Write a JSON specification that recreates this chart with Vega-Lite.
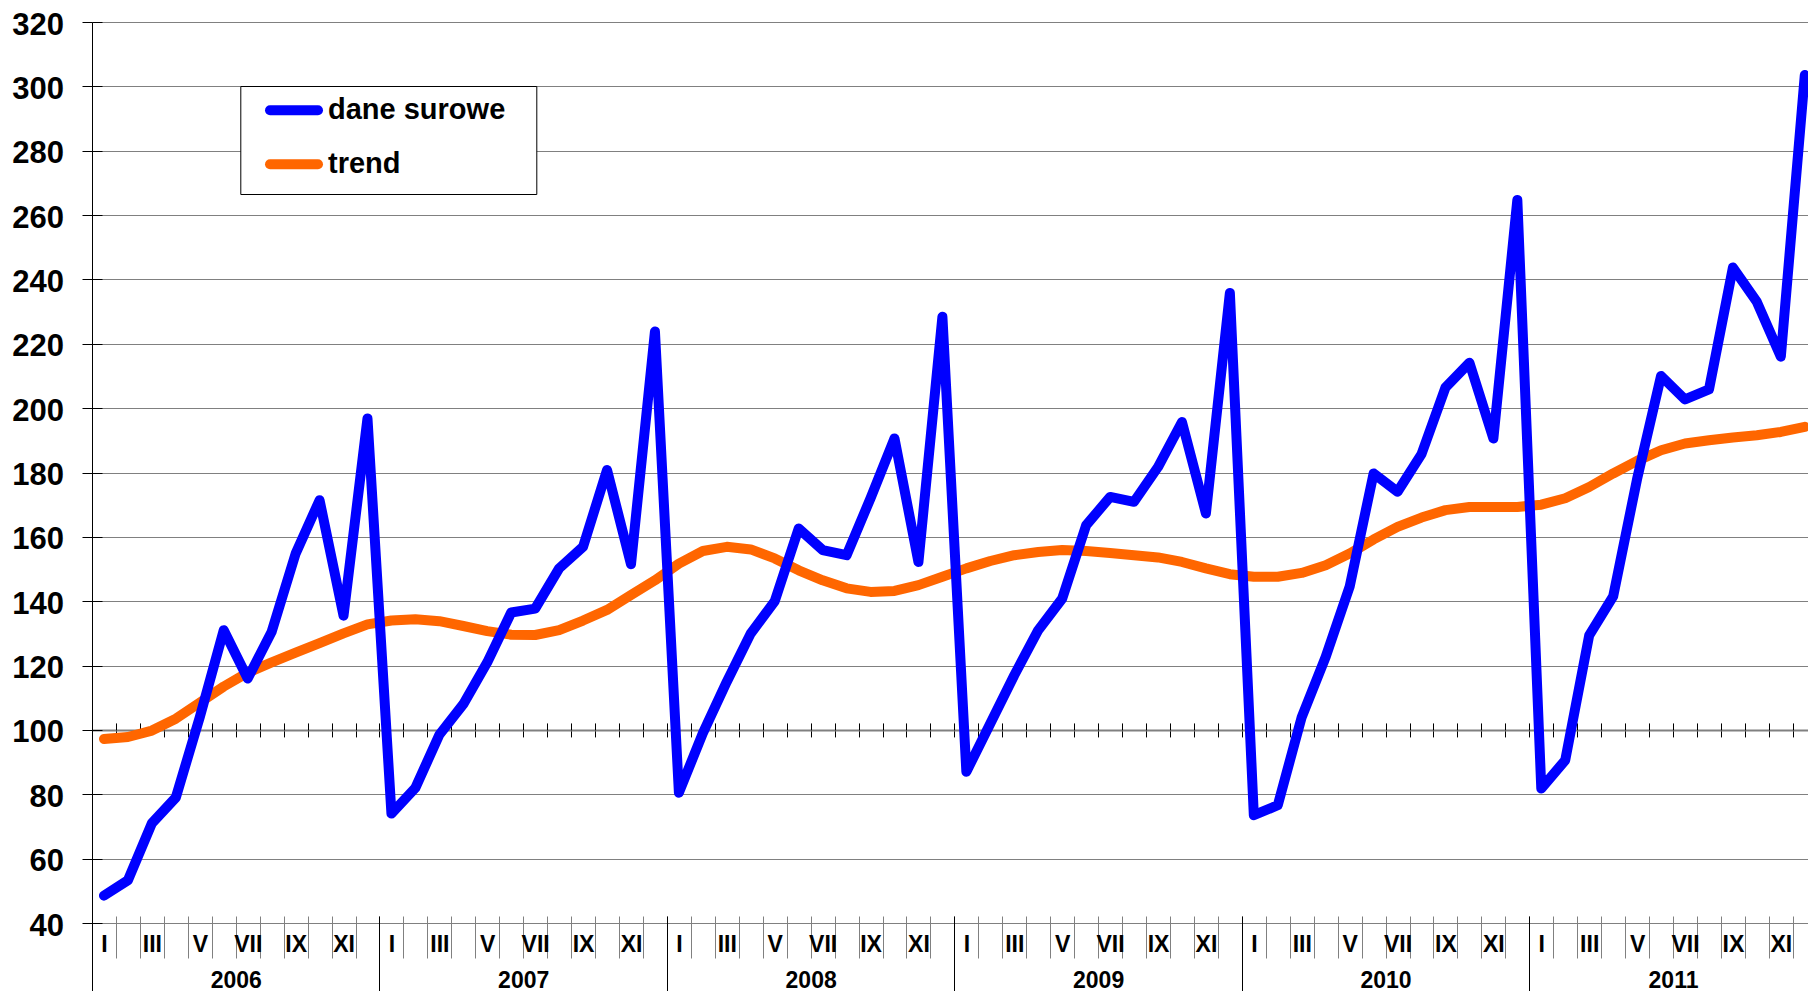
{
  "$schema": "https://vega.github.io/schema/vega-lite/v6.json",
  "width": 1716,
  "height": 901,
  "autosize": {"type": "none"},
  "padding": {"left": 92, "top": 22, "right": 0, "bottom": 68},
  "background": "#ffffff",
  "config": {
    "view": {"stroke": null},
    "font": "Liberation Sans",
    "axis": {"labelFlush": false, "labelOverlap": false, "labelBound": false, "title": null, "labelFont": "Liberation Sans"}
  },
  "data": {"values": [
    {"i":0,"series":"dane surowe","value":48.5},{"i":1,"series":"dane surowe","value":53.3},{"i":2,"series":"dane surowe","value":71},{"i":3,"series":"dane surowe","value":79},{"i":4,"series":"dane surowe","value":104},{"i":5,"series":"dane surowe","value":131},{"i":6,"series":"dane surowe","value":116},{"i":7,"series":"dane surowe","value":130.5},{"i":8,"series":"dane surowe","value":154.8},{"i":9,"series":"dane surowe","value":171.4},{"i":10,"series":"dane surowe","value":135.5},{"i":11,"series":"dane surowe","value":196.8},
    {"i":12,"series":"dane surowe","value":74},{"i":13,"series":"dane surowe","value":82},{"i":14,"series":"dane surowe","value":98.5},{"i":15,"series":"dane surowe","value":108},{"i":16,"series":"dane surowe","value":121},{"i":17,"series":"dane surowe","value":136.5},{"i":18,"series":"dane surowe","value":137.7},{"i":19,"series":"dane surowe","value":150.2},{"i":20,"series":"dane surowe","value":156.9},{"i":21,"series":"dane surowe","value":180.8},{"i":22,"series":"dane surowe","value":151.5},{"i":23,"series":"dane surowe","value":223.8},
    {"i":24,"series":"dane surowe","value":80.5},{"i":25,"series":"dane surowe","value":99},{"i":26,"series":"dane surowe","value":115},{"i":27,"series":"dane surowe","value":130},{"i":28,"series":"dane surowe","value":140},{"i":29,"series":"dane surowe","value":162.6},{"i":30,"series":"dane surowe","value":155.9},{"i":31,"series":"dane surowe","value":154.3},{"i":32,"series":"dane surowe","value":172},{"i":33,"series":"dane surowe","value":190.6},{"i":34,"series":"dane surowe","value":152.2},{"i":35,"series":"dane surowe","value":228.4},
    {"i":36,"series":"dane surowe","value":87},{"i":37,"series":"dane surowe","value":102},{"i":38,"series":"dane surowe","value":117},{"i":39,"series":"dane surowe","value":131},{"i":40,"series":"dane surowe","value":140.8},{"i":41,"series":"dane surowe","value":163.6},{"i":42,"series":"dane surowe","value":172.4},{"i":43,"series":"dane surowe","value":170.9},{"i":44,"series":"dane surowe","value":181.7},{"i":45,"series":"dane surowe","value":195.7},{"i":46,"series":"dane surowe","value":167.3},{"i":47,"series":"dane surowe","value":235.8},
    {"i":48,"series":"dane surowe","value":73.5},{"i":49,"series":"dane surowe","value":76.6},{"i":50,"series":"dane surowe","value":104},{"i":51,"series":"dane surowe","value":122.7},{"i":52,"series":"dane surowe","value":144.5},{"i":53,"series":"dane surowe","value":179.7},{"i":54,"series":"dane surowe","value":174},{"i":55,"series":"dane surowe","value":185.7},{"i":56,"series":"dane surowe","value":206.4},{"i":57,"series":"dane surowe","value":214.1},{"i":58,"series":"dane surowe","value":190.6},{"i":59,"series":"dane surowe","value":264.7},
    {"i":60,"series":"dane surowe","value":81.8},{"i":61,"series":"dane surowe","value":90.6},{"i":62,"series":"dane surowe","value":129.4},{"i":63,"series":"dane surowe","value":141.5},{"i":64,"series":"dane surowe","value":178},{"i":65,"series":"dane surowe","value":210},{"i":66,"series":"dane surowe","value":202.7},{"i":67,"series":"dane surowe","value":205.8},{"i":68,"series":"dane surowe","value":243.7},{"i":69,"series":"dane surowe","value":233},{"i":70,"series":"dane surowe","value":216},{"i":71,"series":"dane surowe","value":303.5},
    {"i":0,"series":"trend","value":97.2},{"i":1,"series":"trend","value":97.8},{"i":2,"series":"trend","value":99.8},{"i":3,"series":"trend","value":103.5},{"i":4,"series":"trend","value":108.5},{"i":5,"series":"trend","value":113.5},{"i":6,"series":"trend","value":117.8},{"i":7,"series":"trend","value":121},{"i":8,"series":"trend","value":124},{"i":9,"series":"trend","value":127},{"i":10,"series":"trend","value":130},{"i":11,"series":"trend","value":132.8},
    {"i":12,"series":"trend","value":134},{"i":13,"series":"trend","value":134.4},{"i":14,"series":"trend","value":133.8},{"i":15,"series":"trend","value":132.3},{"i":16,"series":"trend","value":130.7},{"i":17,"series":"trend","value":129.6},{"i":18,"series":"trend","value":129.5},{"i":19,"series":"trend","value":131},{"i":20,"series":"trend","value":134},{"i":21,"series":"trend","value":137.3},{"i":22,"series":"trend","value":141.9},{"i":23,"series":"trend","value":146.5},
    {"i":24,"series":"trend","value":151.7},{"i":25,"series":"trend","value":155.6},{"i":26,"series":"trend","value":156.9},{"i":27,"series":"trend","value":156.1},{"i":28,"series":"trend","value":153.3},{"i":29,"series":"trend","value":149.6},{"i":30,"series":"trend","value":146.5},{"i":31,"series":"trend","value":144},{"i":32,"series":"trend","value":142.9},{"i":33,"series":"trend","value":143.2},{"i":34,"series":"trend","value":145},{"i":35,"series":"trend","value":147.6},
    {"i":36,"series":"trend","value":150.2},{"i":37,"series":"trend","value":152.5},{"i":38,"series":"trend","value":154.3},{"i":39,"series":"trend","value":155.3},{"i":40,"series":"trend","value":155.9},{"i":41,"series":"trend","value":155.6},{"i":42,"series":"trend","value":155},{"i":43,"series":"trend","value":154.3},{"i":44,"series":"trend","value":153.6},{"i":45,"series":"trend","value":152.2},{"i":46,"series":"trend","value":150.2},{"i":47,"series":"trend","value":148.4},
    {"i":48,"series":"trend","value":147.6},{"i":49,"series":"trend","value":147.6},{"i":50,"series":"trend","value":148.8},{"i":51,"series":"trend","value":151.2},{"i":52,"series":"trend","value":154.8},{"i":53,"series":"trend","value":159.2},{"i":54,"series":"trend","value":163.1},{"i":55,"series":"trend","value":166},{"i":56,"series":"trend","value":168.3},{"i":57,"series":"trend","value":169.3},{"i":58,"series":"trend","value":169.3},{"i":59,"series":"trend","value":169.3},
    {"i":60,"series":"trend","value":170},{"i":61,"series":"trend","value":172},{"i":62,"series":"trend","value":175.5},{"i":63,"series":"trend","value":179.7},{"i":64,"series":"trend","value":183.6},{"i":65,"series":"trend","value":186.9},{"i":66,"series":"trend","value":189},{"i":67,"series":"trend","value":190},{"i":68,"series":"trend","value":190.9},{"i":69,"series":"trend","value":191.6},{"i":70,"series":"trend","value":192.6},{"i":71,"series":"trend","value":194.2}
  ]},
  "layer": [
    {
      "transform": [{"filter": "datum.series === 'trend'"}],
      "mark": {"type": "line", "strokeWidth": 10, "strokeCap": "round", "strokeJoin": "round"},
      "encoding": {
        "x": {"field": "i", "type": "quantitative", "scale": {"domain": [-0.5, 71.134], "nice": false, "zero": false},
          "axis": {"orient": "bottom", "offset": -7, "values": [0,1,2,3,4,5,6,7,8,9,10,11,12,13,14,15,16,17,18,19,20,21,22,23,24,25,26,27,28,29,30,31,32,33,34,35,36,37,38,39,40,41,42,43,44,45,46,47,48,49,50,51,52,53,54,55,56,57,58,59,60,61,62,63,64,65,66,67,68,69,70,71],
            "tickOffset": -11.98, "tickSize": 42, "tickColor": "#808080", "tickWidth": 1, "labels": false, "domain": false, "grid": false, "title": null}},
        "y": {"field": "value", "type": "quantitative", "scale": {"domain": [40, 320], "nice": false, "zero": false},
          "axis": {"orient": "left", "values": [40,60,80,100,120,140,160,180,200,220,240,260,280,300,320], "grid": true, "gridColor": "#808080", "gridWidth": 1,
            "tickSize": 10, "tickColor": "#000000", "tickWidth": 1, "domain": true, "domainColor": "#000000", "domainWidth": 1,
            "labelFont": "Liberation Sans", "labelFontSize": 31, "labelFontWeight": "bold", "labelColor": "#000000", "labelPadding": 18.5, "labelOffset": 3, "title": null}},
        "color": {"field": "series", "type": "nominal",
          "scale": {"domain": ["dane surowe", "trend"], "range": ["#0000ff", "#ff6600"]},
          "legend": {"orient": "none", "legendX": 148.3, "legendY": 64, "direction": "vertical", "title": null,
            "fillColor": "#ffffff", "strokeColor": "#000000", "padding": 9.2, "rowPadding": 14,
            "symbolType": "M-2.4,0H2.4", "symbolSize": 400, "symbolStrokeWidth": 10, "symbolOffset": 29.5, "labelOffset": 19,
            "labelFont": "Liberation Sans", "labelFontSize": 29, "labelFontWeight": "bold", "labelColor": "#000000", "labelLimit": 600,
            "labelExpr": "datum.label + '\u2800'",
            "encode": {"symbols": {"update": {"strokeCap": {"value": "round"}, "fill": {"value": "transparent"}}}}}}
      }
    },
    {
      "transform": [{"filter": "datum.series === 'dane surowe'"}],
      "mark": {"type": "line", "strokeWidth": 10, "strokeCap": "round", "strokeJoin": "round"},
      "encoding": {
        "x": {"field": "i", "type": "quantitative", "scale": {"domain": [-0.5, 71.134], "nice": false, "zero": false},
          "axis": {"orient": "bottom", "values": [0,2,4,6,8,10,12,14,16,18,20,22,24,26,28,30,32,34,36,38,40,42,44,46,48,50,52,54,56,58,60,62,64,66,68,70],
            "ticks": false, "domain": false, "grid": false,
            "labelExpr": "['I','','III','','V','','VII','','IX','','XI',''][datum.value % 12]",
            "labelFont": "Liberation Sans", "labelFontSize": 23, "labelFontWeight": "bold", "labelColor": "#000000", "labelPadding": 10.3, "labelAlign": "center", "labelBaseline": "top", "title": null}},
        "y": {"field": "value", "type": "quantitative", "scale": {"domain": [40, 320], "nice": false, "zero": false},
          "axis": {"orient": "right", "offset": -1716, "values": [40,60,80,100,120,140,160,180,200,220,240,260,280,300,320], "tickSize": 10, "tickColor": "#000000", "tickWidth": 1, "domain": false, "labels": false, "grid": false, "title": null}},
        "color": {"field": "series", "type": "nominal",
          "scale": {"domain": ["dane surowe", "trend"], "range": ["#0000ff", "#ff6600"]},
          "legend": {"orient": "none", "legendX": 148.3, "legendY": 64, "direction": "vertical", "title": null,
            "fillColor": "#ffffff", "strokeColor": "#000000", "padding": 9.2, "rowPadding": 14,
            "symbolType": "M-2.4,0H2.4", "symbolSize": 400, "symbolStrokeWidth": 10, "symbolOffset": 29.5, "labelOffset": 19,
            "labelFont": "Liberation Sans", "labelFontSize": 29, "labelFontWeight": "bold", "labelColor": "#000000", "labelLimit": 600,
            "labelExpr": "datum.label + '\u2800'",
            "encode": {"symbols": {"update": {"strokeCap": {"value": "round"}, "fill": {"value": "transparent"}}}}}}
      }
    },
    {
      "mark": {"type": "point", "opacity": 0, "size": 0},
      "encoding": {
        "x": {"field": "i", "type": "quantitative", "scale": {"domain": [-0.5, 71.134], "nice": false, "zero": false},
          "axis": {"orient": "bottom", "offset": -7, "values": [0,12,24,36,48,60], "tickOffset": -11.98, "labelOffset": 143.73,
            "tickSize": 80, "tickColor": "#000000", "tickWidth": 1, "domain": false, "grid": false,
            "labelExpr": "'' + (2006 + datum.value / 12)",
            "labelFont": "Liberation Sans", "labelFontSize": 23, "labelFontWeight": "bold", "labelColor": "#000000", "labelPadding": -27, "labelAlign": "center", "labelBaseline": "top", "title": null}},
        "y": {"field": "value", "type": "quantitative", "scale": {"domain": [40, 320], "nice": false, "zero": false}, "axis": null}
      }
    },
    {
      "mark": {"type": "point", "opacity": 0, "size": 0},
      "encoding": {
        "x": {"field": "i", "type": "quantitative", "scale": {"domain": [-0.5, 71.134], "nice": false, "zero": false},
          "axis": {"orient": "bottom", "offset": -193.07, "values": [0,1,2,3,4,5,6,7,8,9,10,11,12,13,14,15,16,17,18,19,20,21,22,23,24,25,26,27,28,29,30,31,32,33,34,35,36,37,38,39,40,41,42,43,44,45,46,47,48,49,50,51,52,53,54,55,56,57,58,59,60,61,62,63,64,65,66,67,68,69,70,71],
            "tickOffset": -11.98, "tickSize": 7, "tickColor": "#000000", "tickWidth": 1, "domain": true, "domainColor": "#808080", "domainWidth": 2, "labels": false, "grid": false, "title": null}},
        "y": {"field": "value", "type": "quantitative", "scale": {"domain": [40, 320], "nice": false, "zero": false}, "axis": null}
      }
    },
    {
      "mark": {"type": "point", "opacity": 0, "size": 0},
      "encoding": {
        "x": {"field": "i", "type": "quantitative", "scale": {"domain": [-0.5, 71.134], "nice": false, "zero": false},
          "axis": {"orient": "top", "offset": -707.93, "values": [0,1,2,3,4,5,6,7,8,9,10,11,12,13,14,15,16,17,18,19,20,21,22,23,24,25,26,27,28,29,30,31,32,33,34,35,36,37,38,39,40,41,42,43,44,45,46,47,48,49,50,51,52,53,54,55,56,57,58,59,60,61,62,63,64,65,66,67,68,69,70,71],
            "tickOffset": -11.98, "tickSize": 7, "tickColor": "#000000", "tickWidth": 1, "domain": false, "labels": false, "grid": false, "title": null}},
        "y": {"field": "value", "type": "quantitative", "scale": {"domain": [40, 320], "nice": false, "zero": false}, "axis": null}
      }
    }
  ],
  "resolve": {"axis": {"x": "independent", "y": "independent"}}
}
